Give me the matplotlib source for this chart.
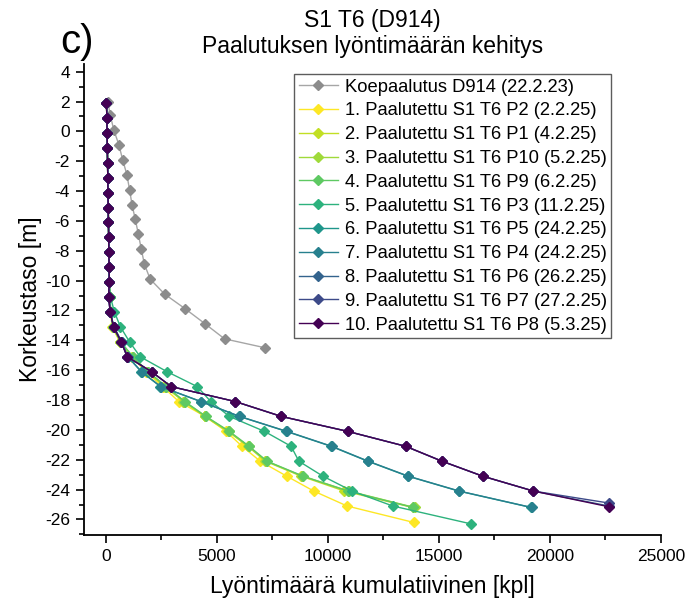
import numpy as np
import matplotlib
matplotlib.use("Agg")
import matplotlib.pyplot as plt

plt.rcParams["font.family"] = ["Liberation Sans", "DejaVu Sans"]
plt.rcParams["axes.unicode_minus"] = False

# ── data ──────────────────────────────────────────────────────────────────────
# common depth grid (m) for the production piles, one point per metre
depth = [1.9, 0.9, -0.1, -1.1, -2.1, -3.1, -4.1, -5.1, -6.1, -7.1, -8.1,
         -9.1, -10.1, -11.1, -12.1, -13.1, -14.1, -15.1, -16.1, -17.1,
         -18.1, -19.1, -20.1, -21.1, -22.1, -23.1, -24.1, -25.1, -26.1]

# test pile
test_depth = [2.0, 1.1, 0.1, -0.9, -1.9, -2.9, -3.9, -4.9, -5.9, -6.9, -7.9,
              -8.9, -9.9, -10.9, -11.9, -12.9, -13.9, -14.5]
test_blows = [80, 190, 350, 580, 750, 940, 1060, 1170, 1320, 1460, 1590,
              1730, 1990, 2640, 3580, 4470, 5340, 7170]

# upper part is practically the same for all production piles
shallow = [20, 40, 50, 60, 70, 80, 90, 100, 110, 120, 130, 140, 150]

p2 = shallow + [170, 200, 280, 620, 1150, 1800, 2550, 3280, 4470, 5410,
                6130, 6950, 8140, 9360, 10860, 13860]
p1 = shallow + [170, 210, 300, 640, 1180, 1850, 2650, 3490, 4440, 5490,
                6390, 7180, 8790, 10740, 13820]
p10 = shallow + [170, 215, 310, 650, 1200, 1880, 2700, 3520, 4480, 5520,
                 6420, 7230, 8850, 10940, 13900]
p9 = shallow + [175, 220, 320, 660, 1220, 1900, 2720, 3550, 4510, 5560,
                6450, 7260, 8880, 10900, 13850]
p3 = shallow + [200, 380, 650, 1060, 1540, 2750, 4110, 4720, 5560, 7140,
                8340, 8690, 9770, 11090, 12920, 16450]
p5 = shallow + [150, 180, 360, 700, 980, 1585, 2455, 4260, 6010, 8120,
                10140, 11790, 13590, 15890, 19150]
p4 = shallow + [150, 185, 365, 705, 990, 1600, 2470, 4280, 6030, 8150,
                10170, 11820, 13620, 15920, 19180]
p6 = shallow + [115, 190, 340, 685, 955, 2050, 2940, 5820, 7905, 10890,
                13500, 15140, 16970, 19260, 22650]
p7 = shallow + [113, 190, 340, 685, 955, 2050, 2940, 5820, 7905, 10890,
                13500, 15140, 16970, 19260, 22650]
p8 = shallow + [113, 190, 340, 685, 955, 2050, 2940, 5820, 7905, 10890,
                13500, 15140, 16970, 19260, 22650]

pile_blows = [p2, p1, p10, p9, p3, p5, p4, p6, p7, p8]
last_depth = [-26.2, -25.2, -25.2, -25.2, -26.3, -25.2, -25.2, -25.1, -24.9, -25.15]

labels = [
    "1. Paalutettu S1 T6 P2 (2.2.25)",
    "2. Paalutettu S1 T6 P1 (4.2.25)",
    "3. Paalutettu S1 T6 P10 (5.2.25)",
    "4. Paalutettu S1 T6 P9 (6.2.25)",
    "5. Paalutettu S1 T6 P3 (11.2.25)",
    "6. Paalutettu S1 T6 P5 (24.2.25)",
    "7. Paalutettu S1 T6 P4 (24.2.25)",
    "8. Paalutettu S1 T6 P6 (26.2.25)",
    "9. Paalutettu S1 T6 P7 (27.2.25)",
    "10. Paalutettu S1 T6 P8 (5.3.25)",
]

# viridis-like palette as used in the original (yellow -> dark purple)
colors = ["#fde725", "#c2df23", "#9fda3a", "#5ec962", "#2db27d",
          "#1f968b", "#27808e", "#33638d", "#3d4a89", "#440154"]

# ── plot ──────────────────────────────────────────────────────────────────────
fig = plt.figure(figsize=(6.87, 6.06), dpi=100)
ax = fig.add_axes([0.122, 0.117, 0.840, 0.777])

ax.plot(test_blows, test_depth, color="#a6a6a6", lw=1.0, marker="D",
        ms=5.2, mfc="#8c8c8c", mec="#8c8c8c",
        label="Koepaalutus D914 (22.2.23)")

for i, xs in enumerate(pile_blows):
    d = depth[:len(xs) - 1] + [last_depth[i]]
    ax.plot(xs, d, color=colors[i], lw=1.0, marker="D", ms=5.2,
            label=labels[i])

ax.set_xlim(-1000, 25000)
ax.set_ylim(-27.05, 4.5)
ax.set_xticks(np.arange(0, 25001, 5000))
ax.set_xticks(np.arange(2500, 25000, 5000), minor=True)
ax.set_yticks(np.arange(-26, 5, 2))
ax.set_yticks(np.arange(-27, 5, 2), minor=True)
ax.tick_params(which="major", direction="out", length=6, width=1.2,
               labelsize=12.5, pad=4)
ax.tick_params(which="minor", direction="out", length=3.5, width=1.2)

for s in ["top", "right"]:
    ax.spines[s].set_visible(False)
for s in ["left", "bottom"]:
    ax.spines[s].set_linewidth(1.3)

ax.set_xlabel("Lyöntimäärä kumulatiivinen [kpl]", fontsize=16.5, labelpad=8)
ax.set_ylabel("Korkeustaso [m]", fontsize=16.5, labelpad=2)
ax.set_title("S1 T6 (D914)\nPaalutuksen lyöntimäärän kehitys",
             fontsize=16.5, pad=8, linespacing=1.2)
fig.text(0.088, 0.9, "c)", fontsize=29, ha="left", va="bottom")

leg = ax.legend(loc="upper right", bbox_to_anchor=(0.914, 0.979),
                fontsize=13.2, frameon=True, fancybox=False,
                edgecolor="#333333", handlelength=2.15, labelspacing=0.37,
                borderpad=0.25, handletextpad=0.35, borderaxespad=0)
leg.get_frame().set_linewidth(1.0)

fig.savefig("out.png", dpi=100)
